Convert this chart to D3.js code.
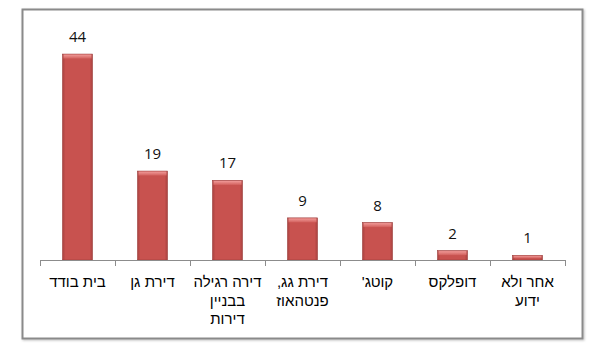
<!DOCTYPE html>
<html>
<head>
<meta charset="utf-8">
<script src="https://cdn.jsdelivr.net/npm/d3@7"></script>
<style>
  body { margin: 0; background: #fff; }
  svg { display: block; }
</style>
</head>
<body>
<div id="chart"></div>
<script>
// data
const categories = ["בית בודד", "דירת גן", "דירה רגילה בבניין דירות", "דירת גג, פנטהאוז", "קוטג'", "דופלקס", "אחר ולא ידוע"];
const categoryLines = [["בית בודד"], ["דירת גן"], ["דירה רגילה", "בבניין", "דירות"], ["דירת גג,", "פנטהאוז"], ["קוטג'"], ["דופלקס"], ["אחר ולא", "ידוע"]];
const values = [44, 19, 17, 9, 8, 2, 1];

const WIDTH = 597, HEIGHT = 351;
const PLOT_LEFT = 40, PLOT_RIGHT = 565, PLOT_TOP = 26, PLOT_BOTTOM = 260;
const FONT = "'Liberation Sans', 'DejaVu Sans', sans-serif";

const svg = d3.select("#chart").append("svg")
    .attr("width", WIDTH)
    .attr("height", HEIGHT);

const defs = svg.append("defs");

// bar bevel: darker sides, light top
let grad = defs.append("linearGradient").attr("id", "barGrad")
    .attr("x1", "0%").attr("x2", "100%").attr("y1", "0%").attr("y2", "0%");
grad.append("stop").attr("offset", "0%").attr("stop-color", "#a94240");
grad.append("stop").attr("offset", "10%").attr("stop-color", "#c8524f");
grad.append("stop").attr("offset", "90%").attr("stop-color", "#c8524f");
grad.append("stop").attr("offset", "100%").attr("stop-color", "#a94240");

let topGrad = defs.append("linearGradient").attr("id", "topGrad")
    .attr("x1", "0%").attr("x2", "0%").attr("y1", "0%").attr("y2", "100%");
topGrad.append("stop").attr("offset", "0%").attr("stop-color", "#f09a98");
topGrad.append("stop").attr("offset", "100%").attr("stop-color", "#d2605d");

let shadow = defs.append("filter").attr("id", "frameShadow")
    .attr("x", "-5%").attr("y", "-5%").attr("width", "110%").attr("height", "110%");
shadow.append("feDropShadow").attr("dx", 1).attr("dy", 1).attr("stdDeviation", 1.2)
    .attr("flood-color", "#000").attr("flood-opacity", 0.25);

// outer frame
svg.append("rect")
    .attr("x", 22.5).attr("y", 9.5)
    .attr("width", 560).attr("height", 329)
    .attr("fill", "#fff")
    .attr("stroke", "#8a8a8a")
    .attr("stroke-width", 2)
    .attr("filter", "url(#frameShadow)");

const x = d3.scaleBand()
    .domain(categories)
    .range([PLOT_LEFT, PLOT_RIGHT])
    .paddingInner(0.6)
    .paddingOuter(0.3);

const step = x.step();

const y = d3.scaleLinear()
    .domain([0, 50])
    .range([PLOT_BOTTOM, PLOT_TOP]);

const data = categories.map((c, i) => ({cat: c, value: values[i], lines: categoryLines[i]}));

// bars
const bars = svg.append("g").attr("id", "bars");

bars.selectAll("rect.bar")
    .data(data)
    .join("rect")
    .attr("class", "bar")
    .attr("x", d => x(d.cat))
    .attr("y", d => y(d.value))
    .attr("width", x.bandwidth())
    .attr("height", d => PLOT_BOTTOM - y(d.value))
    .attr("fill", "url(#barGrad)")
    .attr("stroke", "#9c3d3b")
    .attr("stroke-width", 0.6);

bars.selectAll("rect.bevel")
    .data(data)
    .join("rect")
    .attr("class", "bevel")
    .attr("x", d => x(d.cat) + 1)
    .attr("y", d => y(d.value) + 0.5)
    .attr("width", x.bandwidth() - 2)
    .attr("height", d => Math.min(4, (PLOT_BOTTOM - y(d.value)) / 2))
    .attr("fill", "url(#topGrad)");

// axis line + ticks between categories
const axis = svg.append("g").attr("id", "x-axis");
axis.append("line")
    .attr("x1", PLOT_LEFT).attr("x2", PLOT_RIGHT)
    .attr("y1", PLOT_BOTTOM + 0.5).attr("y2", PLOT_BOTTOM + 0.5)
    .attr("stroke", "#8c8c8c").attr("stroke-width", 1);

const tickXs = d3.range(categories.length + 1).map(i => PLOT_LEFT + i * step);
axis.selectAll("line.tick")
    .data(tickXs)
    .join("line")
    .attr("class", "tick")
    .attr("x1", d => d + 0.5).attr("x2", d => d + 0.5)
    .attr("y1", PLOT_BOTTOM).attr("y2", PLOT_BOTTOM + 6)
    .attr("stroke", "#8c8c8c");

// category labels
const labels = svg.append("g").attr("id", "cat-labels");
labels.selectAll("text")
    .data(data)
    .join("text")
    .attr("x", d => x(d.cat) + x.bandwidth() / 2)
    .attr("y", 287)
    .attr("text-anchor", "middle")
    .attr("direction", "rtl")
    .style("font-family", FONT)
    .style("font-size", "15px")
    .attr("fill", "#000")
    .each(function(d) {
        d3.select(this).selectAll("tspan")
            .data(d.lines)
            .join("tspan")
            .attr("x", x(d.cat) + x.bandwidth() / 2)
            .attr("dy", (l, i) => i === 0 ? 0 : 18.5)
            .text(l => l);
    });

// value labels
svg.append("g").attr("id", "value-labels")
    .selectAll("text")
    .data(data)
    .join("text")
    .attr("x", d => x(d.cat) + x.bandwidth() / 2)
    .attr("y", d => y(d.value) - 12)
    .attr("text-anchor", "middle")
    .style("font-family", "'Open Sans', 'Liberation Sans', sans-serif")
    .style("font-size", "15px")
    .style("font-weight", 400)
    .attr("fill", "#111")
    .text(d => d.value);
</script>
</body>
</html>
